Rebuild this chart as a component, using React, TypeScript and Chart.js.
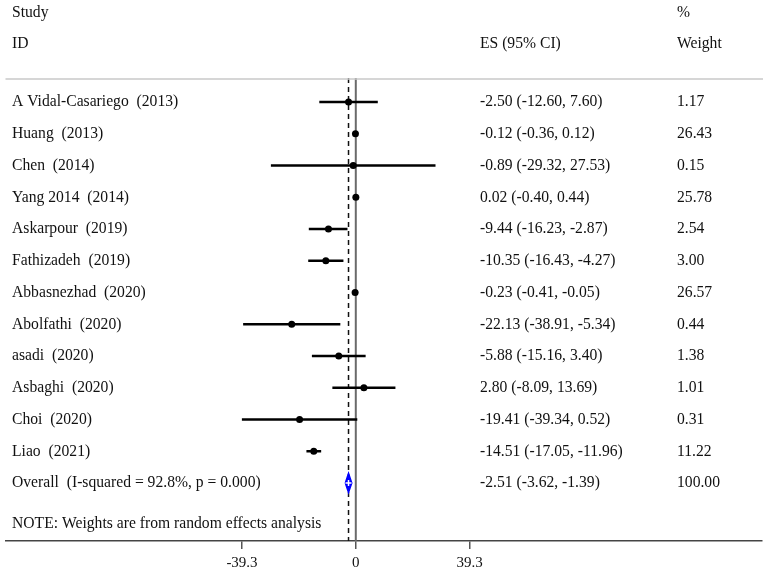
import React, { useEffect, useRef } from "react";
import { Chart, registerables } from "chart.js";

Chart.register(...registerables);

const studies = [
  "A Vidal-Casariego  (2013)",
  "Huang  (2013)",
  "Chen  (2014)",
  "Yang 2014  (2014)",
  "Askarpour  (2019)",
  "Fathizadeh  (2019)",
  "Abbasnezhad  (2020)",
  "Abolfathi  (2020)",
  "asadi  (2020)",
  "Asbaghi  (2020)",
  "Choi  (2020)",
  "Liao  (2021)",
];
const es = [-2.5, -0.12, -0.89, 0.02, -9.44, -10.35, -0.23, -22.13, -5.88, 2.8, -19.41, -14.51];
const lo = [-12.6, -0.36, -29.32, -0.4, -16.23, -16.43, -0.41, -38.91, -15.16, -8.09, -39.34, -17.05];
const hi = [7.6, 0.12, 27.53, 0.44, -2.87, -4.27, -0.05, -5.34, 3.4, 13.69, 0.52, -11.96];
const weights = ["1.17", "26.43", "0.15", "25.78", "2.54", "3.00", "26.57", "0.44", "1.38", "1.01", "0.31", "11.22"];

const overallLabel = "Overall  (I-squared = 92.8%, p = 0.000)";
const overallEs = -2.51;
const overallLo = -3.62;
const overallHi = -1.39;
const overallWeight = "100.00";

const noteText = "NOTE: Weights are from random effects analysis";
const tickValues = [-39.3, 0, 39.3];
const tickLabels = ["-39.3", "0", "39.3"];

const headerStudy = "Study";
const headerId = "ID";
const headerEs = "ES (95% CI)";
const headerPct = "%";
const headerWeight = "Weight";

const X_MIN = -120.98;
const X_MAX = 140.12;
const Y_MIN = 0.244;
const Y_MAX = 14.83;
const OVERALL_ROW = studies.length + 1;
const NOTE_ROW = 14.29;
const DIAMOND_HALF = 0.3;

const FONT = "Liberation Serif, 'Times New Roman', serif";
const TEXT_COLOR = "#111111";

const fmt = (v: number) => v.toFixed(2);
const esText = (e: number, l: number, h: number) => `${fmt(e)} (${fmt(l)}, ${fmt(h)})`;

function drawText(ctx: CanvasRenderingContext2D, text: string, x: number, y: number) {
  ctx.save();
  ctx.translate(x, y);
  ctx.scale(0.92, 1);
  ctx.fillText(text, 0, 0);
  ctx.restore();
}

const textPlugin = {
  id: "forestText",
  afterDraw(chart: any) {
    const ctx: CanvasRenderingContext2D = chart.ctx;
    const yS = chart.scales.y;
    const area = chart.chartArea;
    ctx.save();
    // top rule
    ctx.strokeStyle = "#c8c8c8";
    ctx.lineWidth = 1.5;
    ctx.beginPath();
    ctx.moveTo(area.left, area.top + 1);
    ctx.lineTo(763, area.top + 1);
    ctx.stroke();

    ctx.fillStyle = TEXT_COLOR;
    ctx.font = `17px ${FONT}`;
    ctx.textBaseline = "middle";
    ctx.textAlign = "left";
    const colLabel = 12;
    const colEs = 480;
    const colW = 677;
    drawText(ctx, headerStudy, colLabel, 13);
    drawText(ctx, headerPct, colW, 13);
    drawText(ctx, headerId, colLabel, 44);
    drawText(ctx, headerEs, colEs, 44);
    drawText(ctx, headerWeight, colW, 44);

    studies.forEach((s, i) => {
      const y = yS.getPixelForValue(i + 1);
      drawText(ctx, s, colLabel, y);
      drawText(ctx, esText(es[i], lo[i], hi[i]), colEs, y);
      drawText(ctx, weights[i], colW, y);
    });
    const yo = yS.getPixelForValue(OVERALL_ROW);
    drawText(ctx, overallLabel, colLabel, yo);
    drawText(ctx, esText(overallEs, overallLo, overallHi), colEs, yo);
    drawText(ctx, overallWeight, colW, yo);
    drawText(ctx, noteText, colLabel, yS.getPixelForValue(NOTE_ROW));
    ctx.restore();
  },
};

export default function App() {
  const ref = useRef<HTMLCanvasElement | null>(null);
  useEffect(() => {
    if (!ref.current) return;
    const ciSets = studies.map((_, i) => ({
      data: [
        { x: lo[i], y: i + 1 },
        { x: hi[i], y: i + 1 },
      ],
      showLine: true,
      borderColor: "#000",
      borderWidth: 2.5,
      pointRadius: 0,
      order: 3,
    }));
    const chart = new Chart(ref.current, {
      type: "scatter",
      data: {
        datasets: [
          {
            data: [{ x: overallEs, y: OVERALL_ROW }],
            pointStyle: "cross",
            pointRadius: 3,
            borderColor: "#ffffff",
            borderWidth: 1.5,
            order: -1,
          },
          {
            data: es.map((v, i) => ({ x: v, y: i + 1 })),
            pointRadius: 3.5,
            backgroundColor: "#000",
            borderColor: "#000",
            borderWidth: 0,
            order: 0,
          },
          {
            data: [
              { x: overallLo, y: OVERALL_ROW },
              { x: overallEs, y: OVERALL_ROW - DIAMOND_HALF },
              { x: overallHi, y: OVERALL_ROW },
              { x: overallEs, y: OVERALL_ROW + DIAMOND_HALF },
              { x: overallLo, y: OVERALL_ROW },
            ],
            showLine: true,
            fill: "shape",
            backgroundColor: "#0000ff",
            borderColor: "#0000ff",
            borderWidth: 1.5,
            pointRadius: 0,
            order: 1,
          },
          ...ciSets,
          {
            data: [
              { x: 0, y: Y_MIN },
              { x: 0, y: Y_MAX },
            ],
            showLine: true,
            borderColor: "#6a6a6a",
            borderWidth: 2,
            pointRadius: 0,
            order: 5,
          },
          {
            data: [
              { x: overallEs, y: Y_MIN },
              { x: overallEs, y: Y_MAX },
            ],
            showLine: true,
            borderColor: "#111",
            borderWidth: 1.5,
            borderDash: [5, 4],
            pointRadius: 0,
            order: 4,
          },
        ] as any,
      },
      options: {
        animation: false,
        responsive: false,
        devicePixelRatio: 1,
        layout: { padding: { top: 78, left: 3, right: 0, bottom: 0 } },
        plugins: { legend: { display: false }, tooltip: { enabled: false } },
        scales: {
          x: {
            type: "linear",
            min: X_MIN,
            max: X_MAX,
            afterBuildTicks: (scale: any) => {
              scale.ticks = tickValues.map((v) => ({ value: v }));
            },
            afterFit: (scale: any) => {
              scale.height = 30;
            },
            ticks: {
              color: TEXT_COLOR,
              font: { family: FONT, size: 15 },
              padding: 5,
              maxRotation: 0,
              autoSkip: false,
              callback: (v: any) => {
                const idx = tickValues.indexOf(Number(v));
                return idx >= 0 ? tickLabels[idx] : "";
              },
            },
            grid: { drawOnChartArea: false, drawTicks: true, tickLength: 8, color: "#555", lineWidth: 1.5 },
            border: { display: true, color: "#444", width: 1.5 },
          },
          y: {
            type: "linear",
            display: false,
            reverse: true,
            min: Y_MIN,
            max: Y_MAX,
          },
        },
      },
      plugins: [textPlugin],
    } as any);
    return () => chart.destroy();
  }, []);
  return (
    <div style={{ position: "absolute", left: 0, top: 0, width: 767, height: 571, background: "#fff" }}>
      <canvas ref={ref} width={767} height={571} style={{ display: "block" }} />
    </div>
  );
}
